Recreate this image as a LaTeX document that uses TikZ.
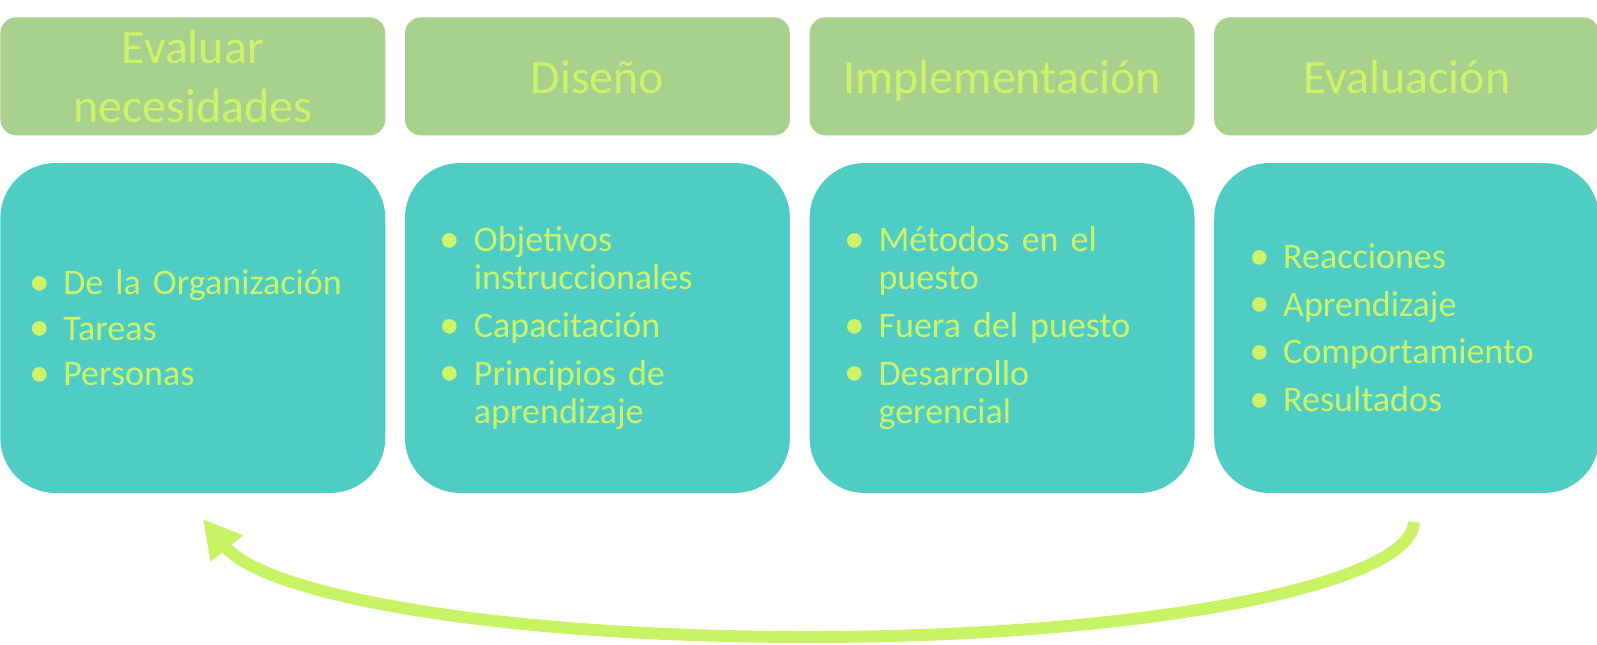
\documentclass[tikz,border=0pt]{standalone}
\usepackage{fontspec}
\usepackage{graphicx}
\setmainfont{Carlito}
\usetikzlibrary{positioning,arrows.meta}
\definecolor{phasegreen}{HTML}{A9D18E}
\definecolor{stepteal}{HTML}{4FCDC4}
\definecolor{limetext}{HTML}{CCF36A}
\definecolor{looplime}{HTML}{C8F364}
\newcommand{\bul}{\makebox[0.68cm][l]{\raisebox{-0.02em}{\scalebox{1.15}{•}}}}
\newcommand{\cont}{\hspace*{0.68cm}}
\tikzset{
  phase/.style={rectangle,rounded corners=0.32cm,minimum width=7.7cm,minimum height=2.36cm,
    fill=phasegreen,text=limetext,align=center,inner sep=0pt,
    text height=24pt,text depth=5pt,
    font=\fontsize{27.3}{33.5}\selectfont},
  stepbox/.style={rectangle,rounded corners=1.1cm,minimum width=7.7cm,minimum height=6.6cm,
    fill=stepteal,text=limetext,align=left,inner xsep=0.7cm,inner ysep=0pt,text width=6.3cm,
    font=\fontsize{20.5}{21.7}\selectfont},
  feedback/.style={-{Triangle[length=0.76cm,width=0.78cm]},line width=0.24cm,draw=looplime},
}
\begin{document}
\begin{tikzpicture}[x=0.02cm,y=-0.02cm]
  \useasboundingbox (0,0) rectangle (1597,645);
  % phase headers
  \node[phase,anchor=north west,text height=,text depth=] (hdr1) at (0,17) {Evaluar\\necesidades};
  \node[phase,right=0.38cm of hdr1] (hdr2) {Diseño};
  \node[phase,right=0.38cm of hdr2] (hdr3) {Implementación};
  \node[phase,right=0.38cm of hdr3] (hdr4) {Evaluación};
  % step contents
  \node[stepbox,below=0.54cm of hdr1,inner xsep=0.58cm,text width=6.54cm] (body1) {
    \bul De la Organización\\[4pt]
    \bul Tareas\\[4pt]
    \bul Personas};
  \node[stepbox,below=0.54cm of hdr2] (body2) {
    \bul Objetivos\\\cont instruccionales\\[5.5pt]
    \bul Capacitación\\[5.5pt]
    \bul Principios de\\\cont aprendizaje};
  \node[stepbox,below=0.54cm of hdr3] (body3) {
    \bul Métodos en el\\\cont puesto\\[5.5pt]
    \bul Fuera del puesto\\[5.5pt]
    \bul Desarrollo\\\cont gerencial};
  \node[stepbox,below=0.54cm of hdr4] (body4) {
    \bul Reacciones\\[5.5pt]
    \bul Aprendizaje\\[5.5pt]
    \bul Comportamiento\\[5.5pt]
    \bul Resultados};
  % feedback loop
  \coordinate (loopstart) at (1414,522);
  \coordinate (loopend) at (203,519);
  \draw[feedback] (loopstart) .. controls (1412,585) and (1144,637) .. (810,637)
    .. controls (480,637) and (262,592) .. (loopend);
\end{tikzpicture}
\end{document}
